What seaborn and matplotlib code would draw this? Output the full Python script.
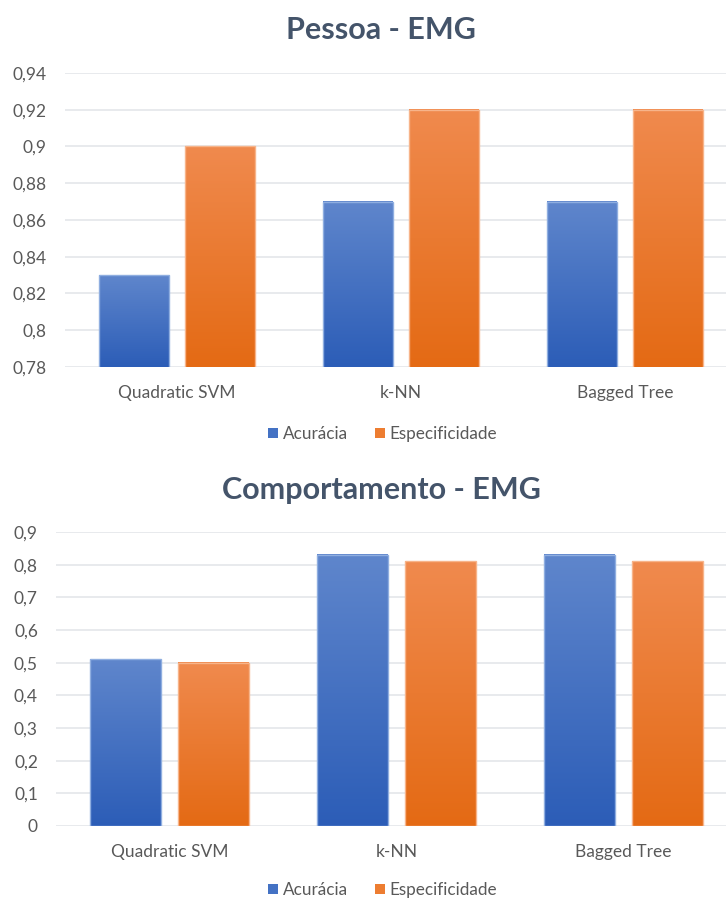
import numpy as np
import pandas as pd
import matplotlib
matplotlib.use("Agg")
import matplotlib.pyplot as plt
from matplotlib.colors import to_rgb
from matplotlib.patches import Patch
import seaborn as sns

# Classifiers and the two metrics reported for each of them
classifiers = ["Quadratic SVM", "k-NN", "Bagged Tree"]
metrics = ["Acurácia", "Especificidade"]

pessoa_acuracia = [0.83, 0.87, 0.87]
pessoa_especificidade = [0.90, 0.92, 0.92]

comport_acuracia = [0.51, 0.83, 0.83]
comport_especificidade = [0.50, 0.81, 0.81]

pessoa_ticks = [0.78, 0.80, 0.82, 0.84, 0.86, 0.88, 0.90, 0.92, 0.94]
comport_ticks = [0.0, 0.1, 0.2, 0.3, 0.4, 0.5, 0.6, 0.7, 0.8, 0.9]

sns.set_theme(style="white")
plt.rcParams["font.family"] = ["Lato", "DejaVu Sans"]

TICK_COLOR = "#595959"
TITLE_COLOR = "#44546A"
GRID_COLOR = "#E4E6EA"

# top / bottom colours of each bar gradient, plus the light outline
GRADIENTS = {
    "Acurácia": ("#5F86CC", "#2C5DB7", "#8FAEE0"),
    "Especificidade": ("#F08A4E", "#E46A14", "#F7B48A"),
}
FLAT = {"Acurácia": "#4472C4", "Especificidade": "#ED7D31"}


def long_frame(acc, esp):
    return pd.DataFrame({
        "Classificador": classifiers * 2,
        "Métrica": [metrics[0]] * 3 + [metrics[1]] * 3,
        "Valor": list(acc) + list(esp),
    })


def fmt(v):
    s = f"{v:.2f}".rstrip("0").rstrip(".")
    return s.replace(".", ",")


def draw_panel(fig, rect, acc, esp, ticks, title, title_y, legend_y):
    ax = fig.add_axes(rect)
    df = long_frame(acc, esp)
    sns.barplot(data=df, x="Classificador", y="Valor", hue="Métrica",
                hue_order=metrics, order=classifiers,
                palette=FLAT, width=0.77, gap=0.19, ax=ax,
                legend=False, errorbar=None, zorder=2)
    ylim = (ticks[0], ticks[-1])
    xlim = (-0.5, 2.5)

    # replace flat fills with vertical gradients clipped to each bar
    for i, p in enumerate(ax.patches):
        metric = metrics[i // len(classifiers)]
        top, bot, edge = GRADIENTS[metric]
        x0 = p.get_x()
        w = p.get_width()
        y0 = ylim[0]
        y1 = p.get_y() + p.get_height()
        t = np.linspace(0, 1, 256)[:, None, None]
        grad = (1 - t) * np.array(to_rgb(top)) + t * np.array(to_rgb(bot))
        grad = np.repeat(grad, 2, axis=1)
        ax.imshow(grad, extent=[x0, x0 + w, y0, y1], aspect="auto",
                  origin="upper", zorder=2, interpolation="bilinear")
        p.set_facecolor("none")
        p.set_edgecolor(edge)
        p.set_linewidth(1.0)
        p.set_zorder(3)

    ax.set_xlim(*xlim)
    ax.set_ylim(*ylim)
    ax.set_aspect("auto")
    ax.set_yticks(ticks)
    ax.set_yticklabels([fmt(v) for v in ticks])
    ax.yaxis.grid(True, color=GRID_COLOR, linewidth=1.2, zorder=0)
    ax.set_axisbelow(True)
    for s in ax.spines.values():
        s.set_visible(False)
    ax.set_xlabel("")
    ax.set_ylabel("")
    ax.tick_params(axis="y", length=0, pad=13, labelsize=12.5, labelcolor=TICK_COLOR)
    ax.tick_params(axis="x", length=0, pad=13, labelsize=12.5, labelcolor=TICK_COLOR)

    fig.text(0.525, title_y, title, ha="center", va="center",
             fontsize=22, fontweight="bold", color=TITLE_COLOR)

    handles = [Patch(facecolor=FLAT[m], edgecolor="none", label=m) for m in metrics]
    fig.legend(handles=handles, loc="center", bbox_to_anchor=(0.527, legend_y),
               ncol=2, frameon=False, fontsize=12.3, labelcolor=TICK_COLOR,
               handlelength=0.6, handleheight=0.6, handletextpad=0.25,
               columnspacing=1.6)
    return ax


fig = plt.figure(figsize=(7.26, 9.0), dpi=100)
W, H = 726.0, 900.0

draw_panel(fig, [65 / W, 1 - 367 / H, (737 - 65) / W, 294 / H],
           pessoa_acuracia, pessoa_especificidade, pessoa_ticks,
           "Pessoa - EMG", 1 - 30 / H, 1 - 434 / H)
draw_panel(fig, [56 / W, 1 - 826 / H, (737 - 56) / W, 294 / H],
           comport_acuracia, comport_especificidade, comport_ticks,
           "Comportamento - EMG", 1 - 490 / H, 1 - 890 / H)

fig.savefig("out.png", dpi=100, facecolor="white")
